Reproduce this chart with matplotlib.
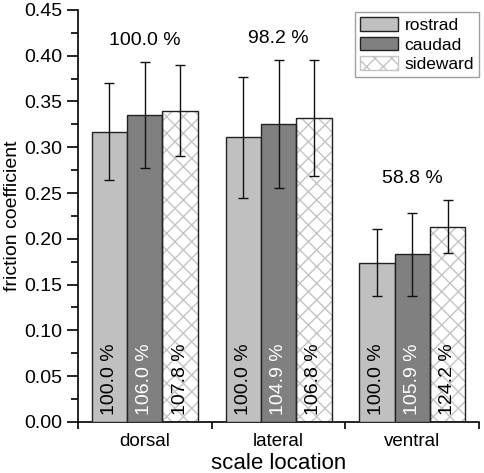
import numpy as np
import matplotlib
import matplotlib.pyplot as plt
from matplotlib.patches import Patch

matplotlib.use("Agg")
plt.rcParams["font.family"] = ["Liberation Sans", "DejaVu Sans"]

locations = ["dorsal", "lateral", "ventral"]
directions = ["rostrad", "caudad", "sideward"]
means = {
    "rostrad": [0.317, 0.311, 0.174],
    "caudad": [0.335, 0.325, 0.183],
    "sideward": [0.340, 0.332, 0.213],
}
errors = {
    "rostrad": [0.053, 0.066, 0.037],
    "caudad": [0.058, 0.070, 0.045],
    "sideward": [0.050, 0.063, 0.029],
}
bar_pct = {
    "rostrad": ["100.0 %", "100.0 %", "100.0 %"],
    "caudad": ["106.0 %", "104.9 %", "105.9 %"],
    "sideward": ["107.8 %", "106.8 %", "124.2 %"],
}
group_pct = ["100.0 %", "98.2 %", "58.8 %"]

fills = {"rostrad": "#c0c0c0", "caudad": "#808080", "sideward": "white"}
text_col = {"rostrad": "black", "caudad": "white", "sideward": "black"}
hatch_col = "#c4c4c4"

fig = plt.figure(figsize=(4.84, 4.73), dpi=100)
ax = fig.add_axes([0.161, 0.108, 0.829, 0.871])

centers = np.arange(len(locations)) + 0.5
w = 0.264
for i, d in enumerate(directions):
    x = centers + (i - 1) * w
    if d == "sideward":
        ax.bar(x, means[d], w, color="white", edgecolor=hatch_col,
               hatch="xx", linewidth=0, zorder=2)
        ax.bar(x, means[d], w, fill=False, edgecolor="#222222",
               linewidth=1.0, zorder=3)
    else:
        ax.bar(x, means[d], w, color=fills[d], edgecolor="#222222",
               linewidth=1.0, zorder=3)
    ax.errorbar(x, means[d], yerr=errors[d], fmt="none", ecolor="#111111",
                elinewidth=1.0, capsize=3.5, capthick=1.0, zorder=4)
    for xi, t in zip(x, bar_pct[d]):
        ax.text(xi, 0.008, t, rotation=90, ha="center", va="bottom",
                fontsize=14, color=text_col[d], zorder=5)

for c, t, i in zip(centers, group_pct, range(3)):
    top = max(means[d][i] + errors[d][i] for d in directions)
    ax.text(c, top + 0.019, t, ha="center", va="baseline", fontsize=14)

ax.set_xlim(0, 3)
ax.set_ylim(0, 0.45)
ax.set_yticks(np.arange(0, 0.451, 0.05))
ax.set_yticks(np.arange(0.025, 0.45, 0.05), minor=True)
ax.set_yticklabels([f"{v:.2f}" for v in np.arange(0, 0.451, 0.05)], fontsize=14)
ax.set_xticks([0, 1, 2, 3])
ax.set_xticklabels([])
ax.set_xticks(centers, minor=True)
ax.set_xticklabels(locations, minor=True, fontsize=13.5)
ax.tick_params(axis="x", which="minor", length=0, pad=8)
ax.tick_params(axis="x", which="major", length=5, width=1.2)
ax.tick_params(axis="y", which="major", length=8, width=1.2, pad=3)
ax.tick_params(axis="y", which="minor", length=5, width=1.2)
for s in ["top", "right"]:
    ax.spines[s].set_visible(False)
for s in ["left", "bottom"]:
    ax.spines[s].set_linewidth(1.2)

ax.set_xlabel("scale location", fontsize=16, labelpad=2)
ax.set_ylabel("friction coefficient", fontsize=14)
ax.yaxis.set_label_coords(-0.143, 0.5)

handles = [
    Patch(facecolor=fills["rostrad"], edgecolor="#222222", label="rostrad"),
    Patch(facecolor=fills["caudad"], edgecolor="#222222", label="caudad"),
    Patch(facecolor="white", edgecolor=hatch_col, hatch="xx", label="sideward"),
]
leg = ax.legend(handles=handles, loc="upper right", bbox_to_anchor=(1.0, 0.995),
                fontsize=12.5, frameon=True, fancybox=False, edgecolor="#888888",
                handlelength=2.2, handleheight=0.85, handletextpad=0.35,
                labelspacing=0.2, borderpad=0.3, borderaxespad=0.0)
leg.get_frame().set_linewidth(1.0)

fig.savefig("out.png", dpi=100)
